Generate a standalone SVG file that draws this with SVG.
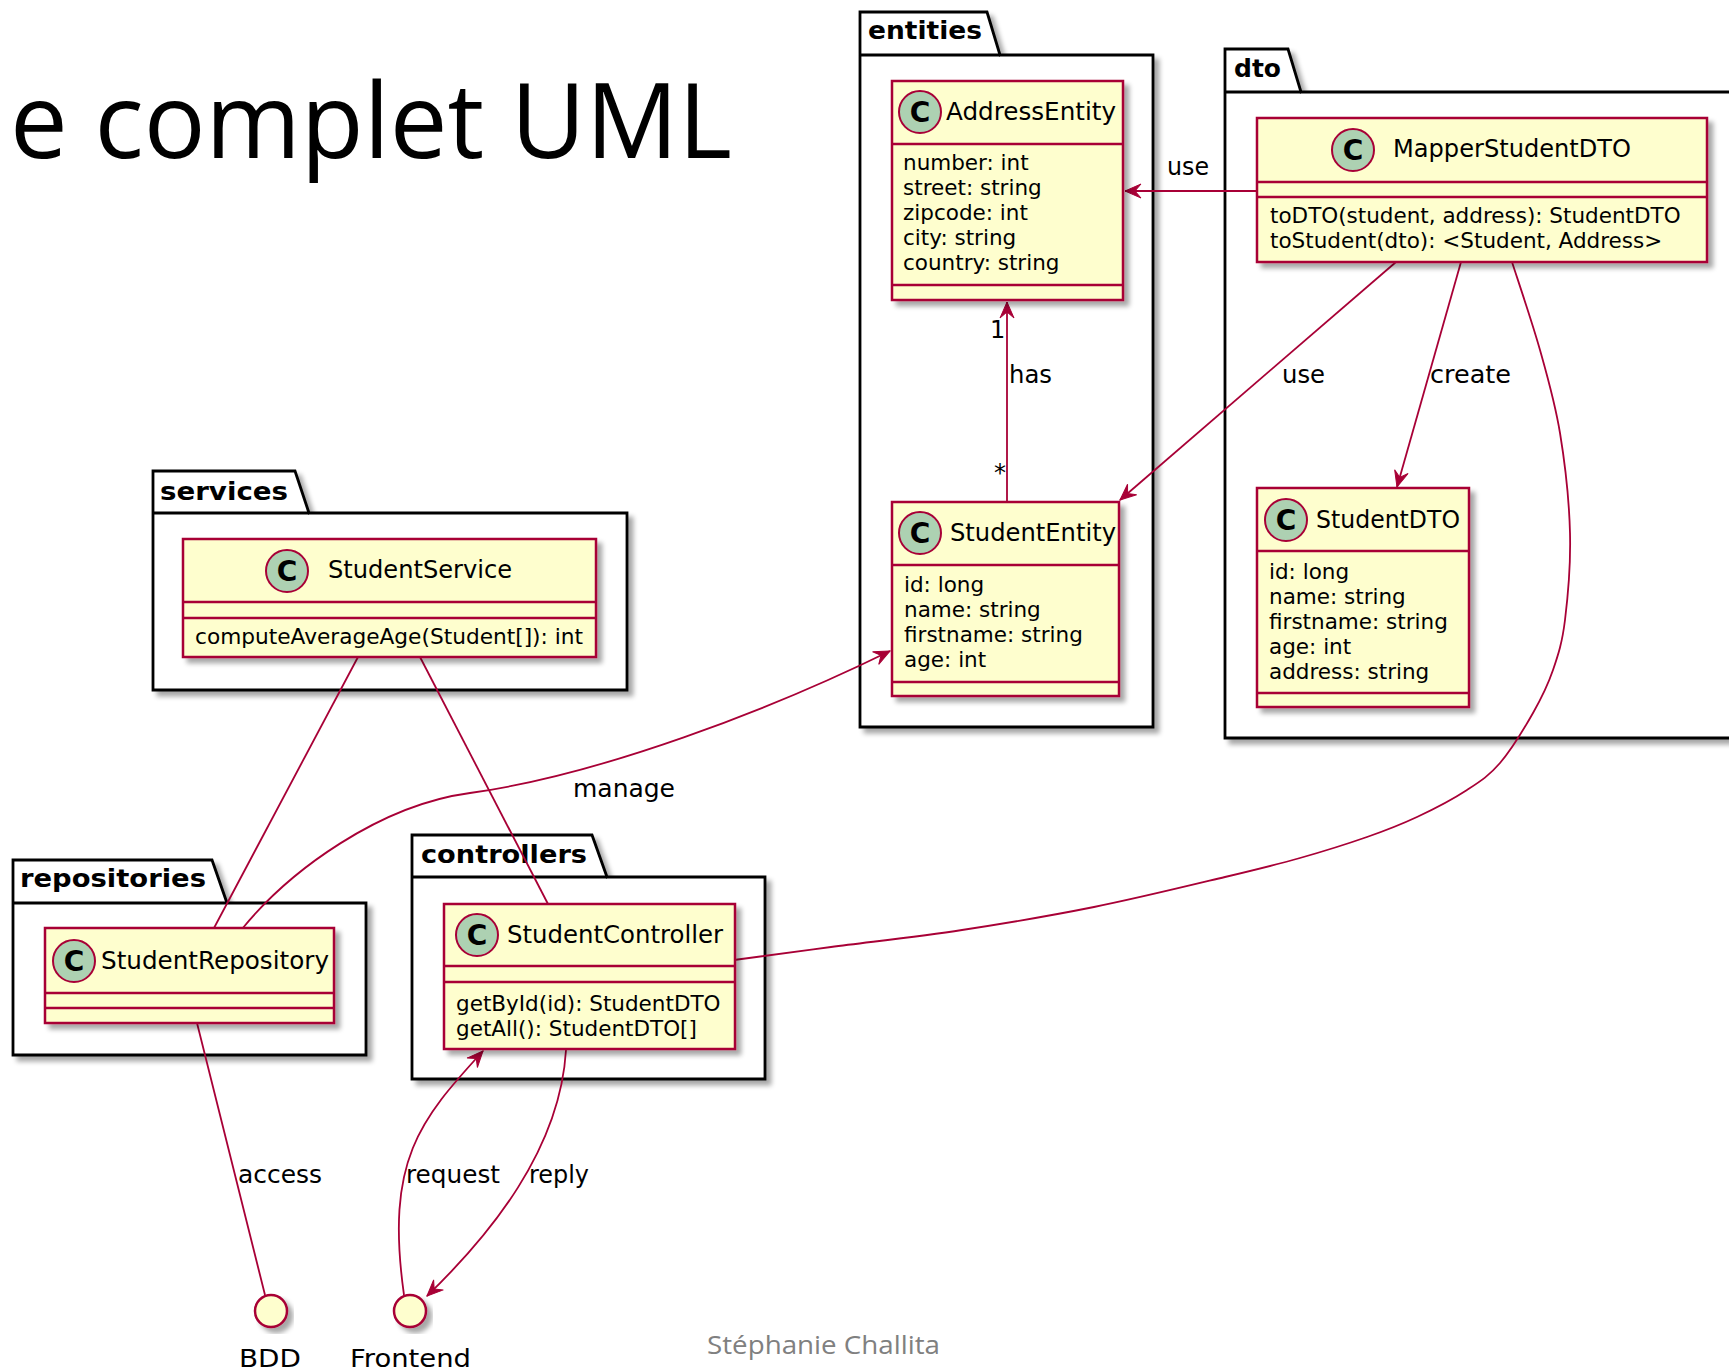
<svg xmlns="http://www.w3.org/2000/svg" width="1729" height="1372" viewBox="0 0 1729 1372">
<style>
.pkg{fill:#fff;stroke:#000;stroke-width:2.8;filter:url(#sh)}
.tab{stroke:#000;stroke-width:2.8;fill:none}
.cls{fill:#FEFECE;stroke:#A80036;stroke-width:2.5;filter:url(#sh)}
.sep{stroke:#A80036;stroke-width:2.5}
.circ{fill:#ADD1B2;stroke:#A80036;stroke-width:2}
.ci{font-family:"DejaVu Sans",sans-serif;font-weight:bold;font-size:28px;text-anchor:middle;fill:#000}
.nm{font-family:"DejaVu Sans",sans-serif;font-size:24px;fill:#000}
.mb{font-family:"DejaVu Sans",sans-serif;font-size:21.5px;fill:#000}
.lb{font-family:"DejaVu Sans",sans-serif;font-size:24px;fill:#000}
.pk{font-family:"DejaVu Sans",sans-serif;font-weight:bold;font-size:25px;fill:#000}
.con{fill:none;stroke:#A80036;stroke-width:1.8}
.arr{marker-end:url(#ah)}
.itf{fill:#FEFECE;stroke:#A80036;stroke-width:2.5;filter:url(#sh)}
</style>
<defs>
<filter id="sh" x="-10%" y="-10%" width="130%" height="130%">
<feGaussianBlur in="SourceAlpha" stdDeviation="2.5"/>
<feOffset dx="5" dy="5" result="o"/>
<feComponentTransfer><feFuncA type="linear" slope="0.35"/></feComponentTransfer>
<feMerge><feMergeNode/><feMergeNode in="SourceGraphic"/></feMerge>
</filter>
<marker id="ah" viewBox="-17 -8 18 16" refX="0" refY="0" markerWidth="18" markerHeight="16" orient="auto" markerUnits="userSpaceOnUse">
<path d="M0,0 L-16,-7 L-10,0 L-16,7 Z" fill="#A80036" stroke="#A80036" stroke-width="1"/>
</marker>
</defs>
<rect x="0" y="0" width="1729" height="1372" fill="#fff"/>

<text x="10" y="158" font-family="'Open Sans',sans-serif" font-size="104" fill="#000" textLength="722" lengthAdjust="spacingAndGlyphs">e complet UML</text>

<g id="pkg-entities">
<path class="pkg" d="M860,12 L987,12 L1000,55 L1153,55 L1153,727 L860,727 Z"/>
<path class="tab" d="M860,55 L1000,55"/>
<text class="pk" x="868" y="39" textLength="114" lengthAdjust="spacingAndGlyphs">entities</text>
</g>
<g id="pkg-dto">
<path class="pkg" d="M1225,49 L1288,49 L1301,92 L1740,92 L1740,738 L1225,738 Z"/>
<path class="tab" d="M1225,92 L1301,92"/>
<text class="pk" x="1234" y="77" textLength="47" lengthAdjust="spacingAndGlyphs">dto</text>
</g>
<g id="pkg-services">
<path class="pkg" d="M153,471 L295,471 L309,513 L627,513 L627,690 L153,690 Z"/>
<path class="tab" d="M153,513 L309,513"/>
<text class="pk" x="160" y="500" textLength="128" lengthAdjust="spacingAndGlyphs">services</text>
</g>
<g id="pkg-repositories">
<path class="pkg" d="M13,860 L212,860 L227,903 L366,903 L366,1055 L13,1055 Z"/>
<path class="tab" d="M13,903 L227,903"/>
<text class="pk" x="20" y="887" textLength="186" lengthAdjust="spacingAndGlyphs">repositories</text>
</g>
<g id="pkg-controllers">
<path class="pkg" d="M412,835 L592,835 L607,877 L765,877 L765,1079 L412,1079 Z"/>
<path class="tab" d="M412,877 L607,877"/>
<text class="pk" x="421" y="863" textLength="166" lengthAdjust="spacingAndGlyphs">controllers</text>
</g>

<g id="connectors">
<path class="con arr" d="M1257,191 L1125,191"/>
<text class="lb" x="1167" y="175" textLength="42" lengthAdjust="spacingAndGlyphs">use</text>
<path class="con arr" d="M1007,502 L1007,302"/>
<text class="lb" x="990" y="338">1</text>
<text class="lb" x="1009" y="383" textLength="43" lengthAdjust="spacingAndGlyphs">has</text>
<text class="lb" x="994" y="481">*</text>
<path class="con arr" d="M1396,262 L1120,500"/>
<text class="lb" x="1282" y="383" textLength="43" lengthAdjust="spacingAndGlyphs">use</text>
<path class="con arr" d="M1461,262 L1397,487"/>
<text class="lb" x="1430" y="383" textLength="81" lengthAdjust="spacingAndGlyphs">create</text>
<path class="con" d="M1512,262 C1516.7,276.7 1532,321.5 1540,350 C1548,378.5 1555,402.5 1560,433 C1565,463.5 1569.2,501.8 1570,533 C1570.8,564.2 1567.8,597.2 1565,620 C1562.2,642.8 1558.3,654.5 1553,670 C1547.7,685.5 1541.8,697.5 1533,713 C1524.2,728.5 1511,750.2 1500,763 C1489,775.8 1480.8,781 1467,790 C1453.2,799 1433.7,809.2 1417,817 C1400.3,824.8 1386.5,830.2 1367,837 C1347.5,843.8 1323.7,851.3 1300,858 C1276.3,864.7 1259.3,868.8 1225,877 C1190.7,885.2 1137.8,898.2 1094,907 C1050.2,915.8 1005.8,923.3 962,930 C918.2,936.7 869,942 831,947 C793,952 750.2,957.8 734,960"/>
<path class="con" d="M358,657 L214,928"/>
<path class="con" d="M420,657 L548,904"/>
<path class="con arr" d="M242,929 C290,870 380,805 470,793 C600,775 770,710 890,651"/>
<text class="lb" x="573" y="797" textLength="102" lengthAdjust="spacingAndGlyphs">manage</text>
<path class="con" d="M197,1023 L265,1295"/>
<text class="lb" x="238" y="1183" textLength="84" lengthAdjust="spacingAndGlyphs">access</text>
<path class="con arr" d="M404,1295 C385,1160 420,1120 483,1051"/>
<text class="lb" x="406" y="1183" textLength="94" lengthAdjust="spacingAndGlyphs">request</text>
<path class="con arr" d="M566,1050 C560,1150 490,1235 427,1296"/>
<text class="lb" x="529" y="1183" textLength="60" lengthAdjust="spacingAndGlyphs">reply</text>
</g>

<g id="AddressEntity">
<rect class="cls" x="892" y="81" width="231" height="219"/>
<line class="sep" x1="892" y1="144" x2="1123" y2="144"/>
<line class="sep" x1="892" y1="285" x2="1123" y2="285"/>
<circle class="circ" cx="920" cy="112" r="21"/>
<text class="ci" x="920" y="122">C</text>
<text class="nm" x="946" y="120" textLength="170" lengthAdjust="spacingAndGlyphs">AddressEntity</text>
<text class="mb" x="903" y="170">number: int</text>
<text class="mb" x="903" y="195">street: string</text>
<text class="mb" x="903" y="220">zipcode: int</text>
<text class="mb" x="903" y="245">city: string</text>
<text class="mb" x="903" y="270">country: string</text>
</g>

<g id="StudentEntity">
<rect class="cls" x="892" y="502" width="227" height="194"/>
<line class="sep" x1="892" y1="565" x2="1119" y2="565"/>
<line class="sep" x1="892" y1="682" x2="1119" y2="682"/>
<circle class="circ" cx="920" cy="533" r="21"/>
<text class="ci" x="920" y="543">C</text>
<text class="nm" x="950" y="541" textLength="166" lengthAdjust="spacingAndGlyphs">StudentEntity</text>
<text class="mb" x="904" y="592">id: long</text>
<text class="mb" x="904" y="617">name: string</text>
<text class="mb" x="904" y="642">firstname: string</text>
<text class="mb" x="904" y="667">age: int</text>
</g>

<g id="MapperStudentDTO">
<rect class="cls" x="1257" y="118" width="450" height="144"/>
<line class="sep" x1="1257" y1="182" x2="1707" y2="182"/>
<line class="sep" x1="1257" y1="197" x2="1707" y2="197"/>
<circle class="circ" cx="1353" cy="150" r="21"/>
<text class="ci" x="1353" y="160">C</text>
<text class="nm" x="1393" y="157" textLength="238" lengthAdjust="spacingAndGlyphs">MapperStudentDTO</text>
<text class="mb" x="1270" y="223">toDTO(student, address): StudentDTO</text>
<text class="mb" x="1270" y="248">toStudent(dto): &lt;Student, Address&gt;</text>
</g>

<g id="StudentDTO">
<rect class="cls" x="1257" y="488" width="212" height="219"/>
<line class="sep" x1="1257" y1="551" x2="1469" y2="551"/>
<line class="sep" x1="1257" y1="693" x2="1469" y2="693"/>
<circle class="circ" cx="1286" cy="520" r="21"/>
<text class="ci" x="1286" y="530">C</text>
<text class="nm" x="1316" y="528" textLength="144" lengthAdjust="spacingAndGlyphs">StudentDTO</text>
<text class="mb" x="1269" y="579">id: long</text>
<text class="mb" x="1269" y="604">name: string</text>
<text class="mb" x="1269" y="629">firstname: string</text>
<text class="mb" x="1269" y="654">age: int</text>
<text class="mb" x="1269" y="679">address: string</text>
</g>

<g id="StudentService">
<rect class="cls" x="183" y="539" width="413" height="118"/>
<line class="sep" x1="183" y1="602" x2="596" y2="602"/>
<line class="sep" x1="183" y1="618" x2="596" y2="618"/>
<circle class="circ" cx="287" cy="571" r="21"/>
<text class="ci" x="287" y="581">C</text>
<text class="nm" x="328" y="578" textLength="184" lengthAdjust="spacingAndGlyphs">StudentService</text>
<text class="mb" x="195" y="644" textLength="388" lengthAdjust="spacingAndGlyphs">computeAverageAge(Student[]): int</text>
</g>

<g id="StudentRepository">
<rect class="cls" x="45" y="928" width="289" height="95"/>
<line class="sep" x1="45" y1="993" x2="334" y2="993"/>
<line class="sep" x1="45" y1="1008" x2="334" y2="1008"/>
<circle class="circ" cx="74" cy="961" r="21"/>
<text class="ci" x="74" y="971">C</text>
<text class="nm" x="101" y="969" textLength="228" lengthAdjust="spacingAndGlyphs">StudentRepository</text>
</g>

<g id="StudentController">
<rect class="cls" x="444" y="904" width="291" height="145"/>
<line class="sep" x1="444" y1="966" x2="735" y2="966"/>
<line class="sep" x1="444" y1="982" x2="735" y2="982"/>
<circle class="circ" cx="477" cy="935" r="21"/>
<text class="ci" x="477" y="945">C</text>
<text class="nm" x="507" y="943" textLength="216" lengthAdjust="spacingAndGlyphs">StudentController</text>
<text class="mb" x="456" y="1011">getById(id): StudentDTO</text>
<text class="mb" x="456" y="1036">getAll(): StudentDTO[]</text>
</g>

<g id="BDD">
<circle class="itf" cx="271" cy="1311" r="16"/>
<text class="lb" x="239" y="1367" font-size="25" textLength="62" lengthAdjust="spacingAndGlyphs">BDD</text>
</g>
<g id="Frontend">
<circle class="itf" cx="410" cy="1311" r="16"/>
<text class="lb" x="350" y="1367" font-size="25" textLength="121" lengthAdjust="spacingAndGlyphs">Frontend</text>
</g>

<text x="707" y="1354" font-family="'Open Sans',sans-serif" font-size="25" fill="#808080" textLength="233" lengthAdjust="spacingAndGlyphs">Stéphanie Challita</text>
</svg>
